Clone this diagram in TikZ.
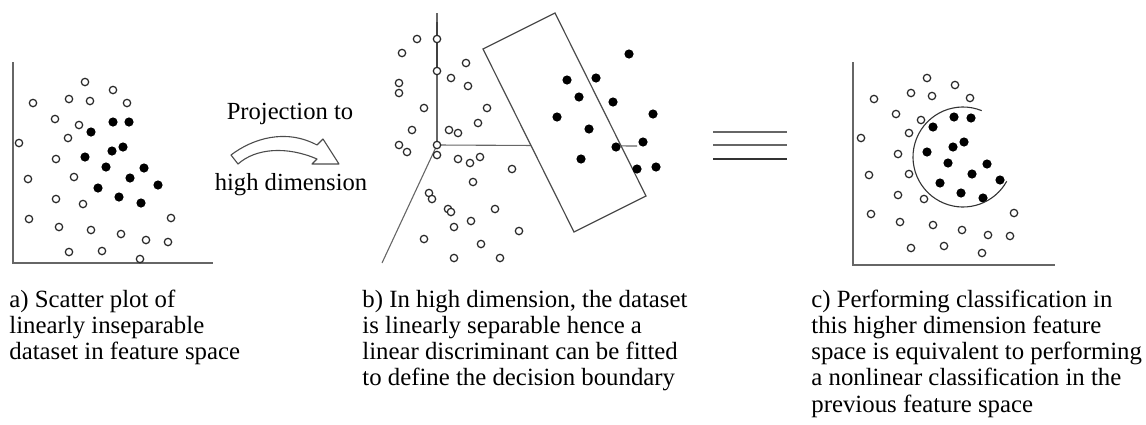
\documentclass[tikz,border=0pt]{standalone}
\usepackage{fontspec}
\setmainfont{Liberation Serif}
\begin{document}
\begin{tikzpicture}[x=0.5pt,y=-0.5pt,
  axis/.style={draw=black!60,line width=0.55pt},
  odot/.style={draw=black!85,fill=white,line width=0.6pt},
  fdot/.style={fill=black},
  capt/.style={anchor=base west,inner sep=0pt,font=\fontsize{12.4}{13.15}\selectfont},
  lbl/.style={anchor=base,inner sep=0pt,font=\fontsize{12.3}{13.15}\selectfont}]
\useasboundingbox (0,0) rectangle (1146,424);

% ---------- panel a ----------
\draw[axis] (13,62) -- (13,263) -- (213,263);
\foreach \p in {(85,82),(113,90),(33,103),(69,99),(90,101),(127,103),(55,119),(79,125),(68,138),(19,143),(56,159),(28,179),(74,177),(56,199),(83,204),(29,219),(59,227),(91,230),(121,234),(146,240),(168,242),(171,218),(69,252),(102,251),(140,259)}
  \path[odot] \p circle[radius=1.85pt];
\foreach \p in {(113,122),(129,122),(91,132),(123,147),(112,151),(85,157),(106,167),(144,168),(130,178),(158,185),(98,188),(119,197),(141,203)}
  \path[fdot] \p circle[radius=2.3pt];

% ---------- arrow ----------
\node[lbl] (proj) at (290,119) {Projection to};
\node[lbl] (high) at (291,190) {high dimension};
\draw[draw=black!70,line width=0.55pt,line join=round]
  (231,155) .. controls (252,139) and (285,128) .. (317,145) -- (323,139) -- (339,164)
  -- (312,164) -- (317,159) .. controls (287,146) and (256,148) .. (238,164) -- cycle;

% ---------- panel b ----------
\draw[axis] (437,13) -- (437,145);
\draw[draw=black!75,line width=0.9pt] (437,22) -- (437,71);
\draw[axis] (437,145) -- (637,146);
\draw[axis] (437,145) -- (382,263);
\draw[draw=black!70,fill=white,line width=0.6pt] (483,49) -- (555,13) -- (646,196) -- (574,232) -- cycle;
\foreach \p in {(417,39),(437,39),(402,53),(437,71),(466,63),(451,78),(468,86),(399,83),(399,93),(424,108),(487,108),(478,123),(412,130),(449,130),(458,133),(399,145),(407,152),(437,145),(437,155),(458,159),(470,163),(480,157),(512,169),(473,182),(429,193),(432,199),(448,209),(451,212),(495,209),(471,221),(454,227),(519,231),(424,239),(481,244),(454,258),(500,258)}
  \path[odot] \p circle[radius=1.85pt];
\foreach \p in {(629,54),(567,80),(596,78),(579,97),(613,102),(557,117),(653,114),(589,129),(616,147),(643,142),(581,159),(637,169),(656,167)}
  \path[fdot] \p circle[radius=2.3pt];

% ---------- equals ----------
\draw[draw=black!60,line width=0.55pt] (713,132) -- (787,132);
\draw[draw=black!60,line width=0.55pt] (713,145) -- (787,145);
\draw[draw=black!80,line width=0.65pt] (713,159) -- (787,159);

% ---------- panel c ----------
\draw[axis] (853,62) -- (853,265) -- (1055,265);
\foreach \p in {(927,78),(955,85),(874,99),(911,93),(932,96),(970,98),(896,114),(921,120),(909,133),(861,138),(898,154),(869,175),(909,174),(898,195),(924,199),(871,214),(900,222),(933,225),(962,230),(988,235),(1010,236),(1014,213),(911,248),(944,246),(982,253)}
  \path[odot] \p circle[radius=1.85pt];
\foreach \p in {(954,117),(971,118),(933,127),(964,142),(953,147),(927,152),(948,163),(987,164),(972,174),(1000,180),(940,183),(961,193),(983,198)}
  \path[fdot] \p circle[radius=2.3pt];
\coordinate (ctr) at (963,157);
\draw[draw=black!80,line width=0.55pt] (ctr) ++(68:25pt) arc[start angle=68,end angle=331,radius=25pt];

% ---------- captions ----------
\node[capt] (ca) at (9,307) {\begin{tabular}[t]{@{}l@{}}a) Scatter plot of\\linearly inseparable\\dataset in feature space\end{tabular}};
\node[capt] (cb) at (362,307) {\begin{tabular}[t]{@{}l@{}}b) In high dimension, the dataset\\is linearly separable hence a\\linear discriminant can be fitted\\to define the decision boundary\end{tabular}};
\node[capt] (cc) at (811,307) {\begin{tabular}[t]{@{}l@{}}c) Performing classification in\\this higher dimension feature\\space is equivalent to performing\\a nonlinear classification in the\\previous feature space\end{tabular}};
\end{tikzpicture}
\end{document}
